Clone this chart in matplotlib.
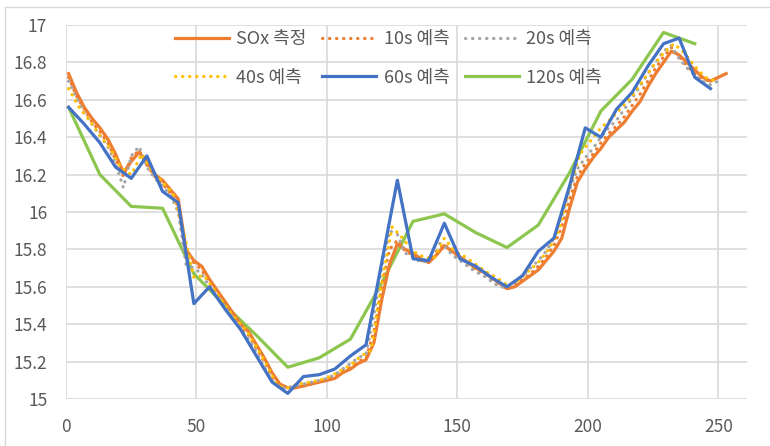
import numpy as np
import matplotlib
matplotlib.use('Agg')
import matplotlib.pyplot as plt
from matplotlib.lines import Line2D

plt.rcParams['font.family'] = ['Noto Sans CJK KR', 'DejaVu Sans']

# SOx measured (every 3 units)
x_meas = np.arange(1, 254, 3)
sox_meas = [16.74, 16.64, 16.56, 16.50, 16.45, 16.39, 16.31, 16.21, 16.27, 16.32,
            16.27, 16.20, 16.17, 16.12, 16.07, 15.80, 15.74, 15.71, 15.64, 15.58,
            15.52, 15.46, 15.40, 15.36, 15.29, 15.22, 15.14, 15.08, 15.06, 15.06,
            15.07, 15.08, 15.09, 15.10, 15.11, 15.14, 15.16, 15.19, 15.21, 15.30,
            15.53, 15.72, 15.83, 15.80, 15.78, 15.75, 15.73, 15.77, 15.82, 15.79,
            15.76, 15.73, 15.70, 15.68, 15.65, 15.62, 15.59, 15.60, 15.63, 15.66,
            15.69, 15.74, 15.79, 15.86, 16.02, 16.16, 16.23, 16.29, 16.34, 16.40,
            16.44, 16.48, 16.54, 16.59, 16.67, 16.74, 16.80, 16.86, 16.84, 16.80,
            16.76, 16.72, 16.70, 16.72, 16.74]

# 10s prediction (every 3 units)
x_10 = np.arange(1, 251, 3)
pred_10 = [16.72, 16.62, 16.55, 16.48, 16.43, 16.37, 16.28, 16.19, 16.29, 16.33,
           16.25, 16.19, 16.15, 16.10, 16.03, 15.76, 15.73, 15.69, 15.62, 15.56,
           15.50, 15.44, 15.39, 15.34, 15.27, 15.20, 15.12, 15.07, 15.06, 15.07,
           15.07, 15.08, 15.09, 15.10, 15.12, 15.15, 15.17, 15.20, 15.22, 15.36,
           15.60, 15.80, 15.85, 15.79, 15.77, 15.74, 15.73, 15.79, 15.83, 15.78,
           15.75, 15.72, 15.69, 15.67, 15.64, 15.61, 15.59, 15.61, 15.64, 15.67,
           15.71, 15.76, 15.82, 15.92, 16.07, 16.19, 16.26, 16.31, 16.37, 16.42,
           16.46, 16.51, 16.57, 16.63, 16.70, 16.77, 16.83, 16.88, 16.83, 16.78,
           16.74, 16.71, 16.70, 16.72]

# 20s prediction (every 3 units)
x_20 = np.arange(1, 251, 3)
pred_20 = [16.70, 16.61, 16.53, 16.47, 16.41, 16.35, 16.26, 16.13, 16.30, 16.35,
           16.24, 16.18, 16.14, 16.09, 16.00, 15.72, 15.70, 15.67, 15.60, 15.54,
           15.49, 15.43, 15.38, 15.32, 15.25, 15.17, 15.10, 15.06, 15.06, 15.07,
           15.08, 15.09, 15.10, 15.11, 15.13, 15.16, 15.19, 15.22, 15.24, 15.45,
           15.70, 15.90, 15.88, 15.78, 15.76, 15.73, 15.74, 15.84, 15.82, 15.77,
           15.74, 15.71, 15.68, 15.66, 15.63, 15.60, 15.60, 15.62, 15.66, 15.70,
           15.74, 15.79, 15.86, 15.98, 16.12, 16.23, 16.29, 16.34, 16.40, 16.45,
           16.49, 16.55, 16.61, 16.67, 16.74, 16.80, 16.86, 16.89, 16.82, 16.77,
           16.73, 16.70, 16.68, 16.70]

# 40s prediction (every 4 units)
x_40 = np.arange(1, 250, 4)
pred_40 = [16.66, 16.56, 16.49, 16.41, 16.34, 16.24, 16.20, 16.31, 16.22, 16.16,
           16.10, 15.90, 15.65, 15.66, 15.58, 15.50, 15.43, 15.37, 15.28, 15.18,
           15.07, 15.06, 15.08, 15.09, 15.10, 15.12, 15.15, 15.18, 15.23, 15.26,
           15.62, 15.92, 15.86, 15.79, 15.76, 15.75, 15.86, 15.79, 15.76, 15.72,
           15.68, 15.65, 15.61, 15.63, 15.68, 15.73, 15.80, 15.90, 16.13, 16.31,
           16.38, 16.45, 16.50, 16.56, 16.62, 16.70, 16.78, 16.85, 16.90, 16.85,
           16.78, 16.72, 16.70]

# 60s prediction (every 6 units)
x_60 = np.arange(1, 248, 6)
pred_60 = [16.56, 16.47, 16.37, 16.24, 16.18, 16.30, 16.11, 16.05, 15.51, 15.60,
           15.48, 15.37, 15.23, 15.09, 15.03, 15.12, 15.13, 15.16, 15.23, 15.29,
           15.73, 16.17, 15.75, 15.74, 15.94, 15.75, 15.71, 15.65, 15.60, 15.66,
           15.79, 15.86, 16.14, 16.45, 16.40, 16.55, 16.64, 16.78, 16.90, 16.93,
           16.72, 16.66]

# 120s prediction (every 12 units)
x_120 = np.arange(1, 242, 12)
pred_120 = [16.56, 16.20, 16.03, 16.02, 15.67, 15.50, 15.34, 15.17, 15.22, 15.32,
            15.62, 15.95, 15.99, 15.89, 15.81, 15.93, 16.21, 16.54, 16.71, 16.96,
            16.90]

fig = plt.figure(figsize=(7.7, 4.46), dpi=100)
ax = fig.add_axes([66 / 770, 47 / 446, 681 / 770, 374 / 446])

dots = (0, (0.1, 2.1))
l_meas, = ax.plot(x_meas, sox_meas, color='#ED7D31', lw=2.3, label='SOx 측정', zorder=3)
l_10, = ax.plot(x_10, pred_10, color='#ED7D31', lw=2.3, ls=dots,
                dash_capstyle='round', label='10s 예측', zorder=4)
l_20, = ax.plot(x_20, pred_20, color='#A5A5A5', lw=2.3, ls=dots,
                dash_capstyle='round', label='20s 예측', zorder=4)
l_40, = ax.plot(x_40, pred_40, color='#FFC000', lw=2.3, ls=dots,
                dash_capstyle='round', label='40s 예측', zorder=4)
l_60, = ax.plot(x_60, pred_60, color='#4472C4', lw=2.3, label='60s 예측', zorder=5)
l_120, = ax.plot(x_120, pred_120, color='#8CC64F', lw=2.3, label='120s 예측', zorder=2)

ax.set_xlim(0, 261)
ax.set_ylim(15, 17)
ax.set_xticks(np.arange(0, 251, 50))
ax.set_yticks(np.arange(15, 17.01, 0.2))
ax.set_yticklabels(['15', '15.2', '15.4', '15.6', '15.8', '16', '16.2', '16.4', '16.6', '16.8', '17'])
ax.grid(True, color='#D9D9D9', lw=1.2)
ax.set_axisbelow(True)
for s in ax.spines.values():
    s.set_visible(False)
ax.tick_params(length=0, labelsize=12.5, labelcolor='#595959')
ax.tick_params(axis='y', pad=13.5)
ax.tick_params(axis='x', pad=14)

handles = [l_meas, l_40, l_10, l_60, l_20, l_120]
leg = ax.legend(handles=handles, ncol=3, loc='upper left',
                bbox_to_anchor=((175 - 66) / 681, (399 - 30) / 374),
                frameon=False, fontsize=13, handlelength=3.0, handletextpad=0.4,
                columnspacing=0.85, labelspacing=1.15, borderpad=0, borderaxespad=0)
for t in leg.get_texts():
    t.set_color('#595959')

fig.add_artist(Line2D([5 / 770, 5 / 770], [0, 1 - 7 / 446], transform=fig.transFigure,
                      color='#D9D9D9', lw=1))
fig.add_artist(Line2D([5 / 770, 1], [1 - 7 / 446, 1 - 7 / 446], transform=fig.transFigure,
                      color='#D9D9D9', lw=1))

fig.savefig('out.png', dpi=100)
